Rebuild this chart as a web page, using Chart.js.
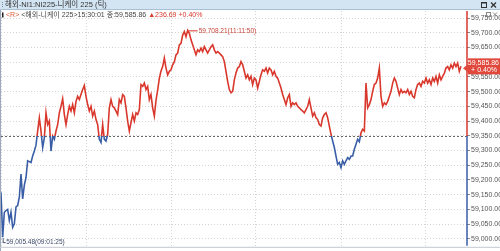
<!DOCTYPE html>
<html>
<head>
<meta charset="utf-8">
<script src="https://cdn.jsdelivr.net/npm/chart.js@4.4.1/dist/chart.umd.min.js"></script>
<style>
  html, body { margin: 0; padding: 0; background: #fff; }
  #wrap { position: relative; width: 500px; height: 251px; }
</style>
</head>
<body>
<div id="wrap"><canvas id="tickChart" width="500" height="251"></canvas></div>
<script>
// 해외-NI1:NI225 니케이 225 tick chart (one value per tick sample)
const prices = [
  59158, 59005.48, 59090, 59096, 59100, 59062, 59090, 59039, 59051, 59108,
  59113, 59141, 59220, 59135, 59182, 59208, 59265, 59262, 59259, 59281,
  59298, 59318, 59366, 59411, 59366, 59310, 59343, 59428, 59388, 59400,
  59298, 59349, 59338, 59366, 59388, 59428, 59450, 59476, 59422, 59388,
  59422, 59450, 59434, 59456, 59428, 59467, 59484, 59473, 59490, 59507,
  59521, 59484, 59456, 59434, 59450, 59417, 59434, 59405, 59388, 59338,
  59327, 59388, 59338, 59332, 59355, 59445, 59473, 59450, 59445, 59434,
  59422, 59473, 59462, 59490, 59484, 59445, 59400, 59366, 59395, 59422,
  59400, 59428, 59422, 59439, 59524, 59518, 59529, 59507, 59518, 59473,
  59490, 59445, 59417, 59470, 59505, 59545, 59570, 59585, 59614, 59580,
  59557, 59569, 59574, 59591, 59602, 59625, 59631, 59659, 59664, 59692,
  59704, 59687, 59708.21, 59698, 59676, 59659, 59642, 59625, 59642, 59636,
  59648, 59636, 59653, 59642, 59631, 59642, 59653, 59659, 59642, 59631,
  59636, 59631, 59625, 59619, 59602, 59569, 59535, 59507, 59496, 59501,
  59540, 59563, 59580, 59585, 59602, 59591, 59569, 59546, 59557, 59540,
  59552, 59524, 59546, 59540, 59512, 59535, 59557, 59574, 59569, 59580,
  59563, 59580, 59574, 59557, 59569, 59552, 59546, 59529, 59512, 59490,
  59473, 59456, 59479, 59490, 59450, 59462, 59456, 59462, 59450, 59445,
  59439, 59434, 59428, 59439, 59450, 59473, 59445, 59417, 59428, 59411,
  59405, 59388, 59383, 59411, 59422, 59428, 59411, 59383, 59355, 59332,
  59310, 59281, 59253, 59259, 59242, 59265, 59253, 59265, 59276, 59270,
  59281, 59281, 59304, 59321, 59338, 59330, 59360, 59372, 59366, 59529,
  59445, 59456, 59473, 59501, 59524, 59529, 59546, 59580, 59484, 59450,
  59462, 59456, 59467, 59484, 59501, 59529, 59546, 59535, 59512, 59490,
  59507, 59496, 59501, 59496, 59507, 59490, 59501, 59484, 59479, 59507,
  59524, 59529, 59518, 59535, 59529, 59546, 59529, 59540, 59524, 59546,
  59535, 59552, 59529, 59557, 59540, 59552, 59563, 59580, 59585, 59574,
  59591, 59580, 59597, 59585, 59597, 59569, 59585.86
];
const yTickValues = [59000, 59050, 59100, 59150, 59200, 59250, 59300, 59350,
  59400, 59450, 59500, 59550, 59600, 59650, 59700, 59750];
const prevClose = 59349.17;
const lastPrice = 59585.86;
const change = 236.69;
const changePct = 0.40;
const lastTime = '15:30:01';
const highTime = '11:11:50';
const lowTime = '09:01:25';
const titleText = '해외-NI1:NI225-니케이 225 (틱)';
const infoName = '<해외-니케이 225>';

const RED = '#d9372c';
const BLUE = '#3a5ea6';
const FONT = '"Liberation Sans", "Noto Sans CJK KR", sans-serif';

const fmt = v => v.toLocaleString('en-US', { minimumFractionDigits: 2, maximumFractionDigits: 2 });

function line(ctx, x1, y1, x2, y2) {
    ctx.beginPath();
    ctx.moveTo(x1, y1);
    ctx.lineTo(x2, y2);
    ctx.stroke();
}

// split colour: red above previous close, blue below
function splitColor(context) {
    const chart = context.chart;
    const area = chart.chartArea;
    if (!area) return RED;
    const yb = chart.scales.y.getPixelForValue(prevClose);
    const t = Math.min(1, Math.max(0, (yb - area.top) / (area.bottom - area.top)));
    const g = chart.ctx.createLinearGradient(0, area.top, 0, area.bottom);
    g.addColorStop(0, RED);
    g.addColorStop(t, RED);
    g.addColorStop(t, BLUE);
    g.addColorStop(1, BLUE);
    return g;
}

const baseLine = {
    id: 'baseLine',
    beforeDatasetsDraw(chart) {
        const { ctx, chartArea: a, scales: { y } } = chart;
        const yb = Math.round(y.getPixelForValue(prevClose)) + 0.5;
        ctx.save();
        ctx.strokeStyle = '#666';
        ctx.lineWidth = 1;
        ctx.setLineDash([2, 2]);
        line(ctx, a.left, yb, a.right, yb);
        ctx.restore();
    }
};

const overlay = {
    id: 'overlay',
    afterDraw(chart) {
        const { ctx, chartArea: a, scales: { x, y } } = chart;
        const W = chart.width, H = chart.height;
        const yb = y.getPixelForValue(prevClose);
        ctx.save();

        // frame
        ctx.strokeStyle = '#9eaabb';
        ctx.lineWidth = 1;
        line(ctx, 0.5, 10, 0.5, H);
        ctx.strokeStyle = '#c4c9d0';
        line(ctx, 0, a.bottom + 1.5, W, a.bottom + 1.5);

        // right axis, coloured like the line
        ctx.lineWidth = 1.5;
        ctx.strokeStyle = RED;
        line(ctx, a.right, a.top, a.right, yb);
        ctx.strokeStyle = BLUE;
        line(ctx, a.right, yb, a.right, a.bottom);

        // high / low marks
        let hi = 0, lo = 0;
        prices.forEach((v, i) => {
            if (v > prices[hi]) hi = i;
            if (v < prices[lo]) lo = i;
        });
        ctx.font = '6.5px ' + FONT;
        ctx.textBaseline = 'middle';
        const hx = x.getPixelForValue(hi), hy = y.getPixelForValue(prices[hi]);
        ctx.strokeStyle = RED;
        ctx.lineWidth = 1;
        line(ctx, hx + 1, hy + 0.5, hx + 10, hy + 0.5);
        ctx.fillStyle = '#c8463a';
        ctx.fillText(fmt(prices[hi]) + '(' + highTime + ')', hx + 11, hy + 0.5);

        const lx = x.getPixelForValue(lo), ly = y.getPixelForValue(prices[lo]);
        ctx.strokeStyle = '#4a5878';
        line(ctx, lx + 0.5, ly + 1, lx + 0.5, ly + 5);
        line(ctx, lx, ly + 5.5, lx + 3, ly + 5.5);
        ctx.fillStyle = '#3a4868';
        ctx.fillText(fmt(prices[lo]) + '(' + lowTime + ')', lx + 3.5, ly + 5.5);

        // last price box
        const py = y.getPixelForValue(lastPrice);
        ctx.fillStyle = '#e0483b';
        ctx.fillRect(a.right + 1, py - 8, W - a.right - 1, 16);
        ctx.beginPath();
        ctx.moveTo(a.right - 4, py + 2);
        ctx.lineTo(a.right + 1, py - 2);
        ctx.lineTo(a.right + 1, py + 6);
        ctx.closePath();
        ctx.fill();
        ctx.fillStyle = '#fff';
        ctx.font = '7px ' + FONT;
        ctx.textAlign = 'right';
        ctx.fillText(fmt(lastPrice), W - 1, py - 3.5);
        ctx.fillText('+ ' + changePct.toFixed(2) + '%', W - 3, py + 4);
        ctx.textAlign = 'left';

        // title bar
        ctx.fillStyle = '#d3e4f2';
        ctx.fillRect(0, 0, W, 9.5);
        ctx.strokeStyle = '#a8bfd4';
        ctx.lineWidth = 1;
        line(ctx, 0, 9.5, W, 9.5);
        ctx.fillStyle = '#7a8898';
        for (let i = 0; i < 3; i++) ctx.fillRect(2, 2 + i * 2, 1, 1);
        ctx.fillStyle = '#333';
        ctx.font = '7.5px ' + FONT;
        ctx.textBaseline = 'middle';
        ctx.fillText(titleText, 5, 5);
        // window buttons
        ctx.strokeStyle = '#333';
        ctx.lineWidth = 1;
        ctx.strokeRect(481.5, 2.5, 5, 5);
        line(ctx, 481.5, 3, 486.5, 3);
        ctx.lineWidth = 1.3;
        line(ctx, 491, 2.5, 496, 7.5);
        line(ctx, 496, 2.5, 491, 7.5);
        ctx.strokeStyle = '#888';
        ctx.lineWidth = 1;
        ctx.strokeRect(486.5, 12.5, 4, 4);
        line(ctx, 493, 12.5, 497, 16.5);
        line(ctx, 497, 12.5, 493, 16.5);

        // info line
        let cx = 2;
        const iy = 15.5;
        ctx.fillStyle = '#222';
        ctx.fillRect(cx, iy - 3, 1.5, 5);
        cx = 6;
        ctx.font = '7px ' + FONT;
        const seg = (txt, col) => {
            ctx.fillStyle = col;
            ctx.fillText(txt, cx, iy);
            cx += ctx.measureText(txt).width;
        };
        seg('<R> ', '#e05a3a');
        seg(infoName + lastTime + ' 종:' + fmt(lastPrice) + ' ', '#444');
        seg('▲' + fmt(change) + ' +' + changePct.toFixed(2) + '%', RED);

        ctx.restore();
    }
};

new Chart(document.getElementById('tickChart'), {
    type: 'line',
    data: {
        datasets: [{
            data: prices.map((v, i) => ({ x: i, y: v })),
            borderColor: splitColor,
            borderWidth: 1.6,
            pointRadius: 0,
            tension: 0,
            fill: false
        }]
    },
    options: {
        responsive: false,
        devicePixelRatio: 1,
        animation: false,
        layout: { padding: { left: 1, top: 11, right: 0, bottom: 0 } },
        plugins: { legend: { display: false }, tooltip: { enabled: false } },
        scales: {
            x: {
                type: 'linear',
                min: 0,
                max: 279.6,
                ticks: { display: false, stepSize: 51, includeBounds: false },
                grid: { color: '#d4d4d4', drawTicks: false },
                border: { display: false, dash: [1, 2] },
                afterFit: s => { s.height = 4; }
            },
            y: {
                position: 'right',
                min: 58976,
                max: 59774,
                afterBuildTicks: s => { s.ticks = yTickValues.map(v => ({ value: v })); },
                ticks: {
                    color: '#555',
                    font: { size: 7, family: FONT },
                    padding: 1,
                    callback: v => fmt(v)
                },
                grid: { color: '#d4d4d4', tickColor: '#888', tickLength: 3 },
                border: { display: false, dash: [1, 2] },
                afterFit: s => { s.width = 33; }
            }
        }
    },
    plugins: [baseLine, overlay]
});
</script>
</body>
</html>
